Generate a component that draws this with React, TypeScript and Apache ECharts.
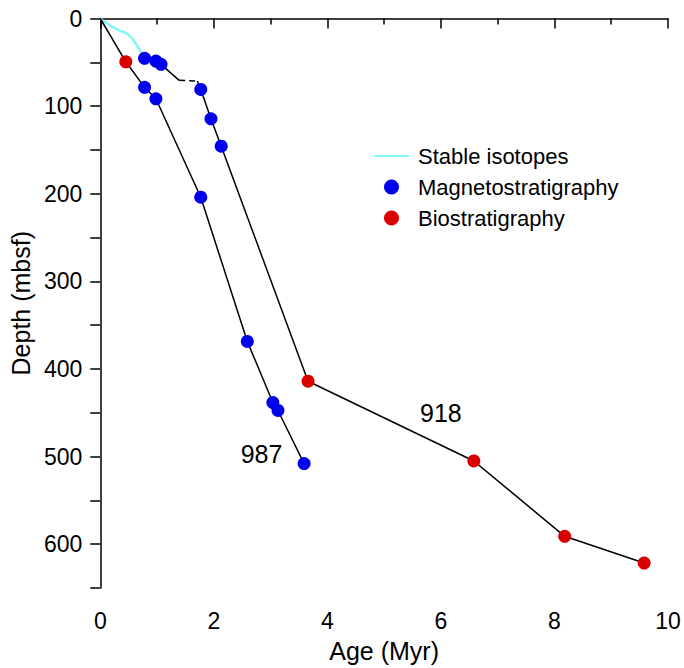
import React, { useEffect, useRef } from 'react';
import * as echarts from 'echarts';

// Stable isotope tie line (Site 918, top)
const isotopeAge = [0, 0.03, 0.21, 0.35, 0.47, 0.56, 0.64, 0.73, 0.78];
const isotopeDepth = [0, 1.7, 9.4, 14, 17, 22.6, 30, 40, 45.5];

// Site 918 age-depth line (solid parts and the dashed gap)
const site918UpperAge = [0.78, 0.98, 1.07, 1.39];
const site918UpperDepth = [45.5, 48.6, 52.3, 70.6];
const site918GapAge = [1.39, 1.71];
const site918GapDepth = [70.6, 71.4];
const site918LowerAge = [1.71, 1.77, 1.95, 2.13, 3.66, 6.58, 8.18, 9.58];
const site918LowerDepth = [71.4, 81, 114.5, 145.7, 414, 505, 591, 621.5];

// Site 987 age-depth line
const site987Age = [0, 0.45, 0.78, 0.98, 1.77, 2.59, 3.04, 3.13, 3.59];
const site987Depth = [0, 49.4, 78.6, 91.6, 204, 368.6, 438.3, 447.4, 508];

// Datums
const magnetoAge = [0.78, 0.98, 1.07, 1.77, 1.95, 2.13, 0.78, 0.98, 1.77, 2.59, 3.04, 3.13, 3.59];
const magnetoDepth = [45.5, 48.6, 52.3, 81, 114.5, 145.7, 78.6, 91.6, 204, 368.6, 438.3, 447.4, 508];
const bioAge = [0.45, 3.66, 6.58, 8.18, 9.58];
const bioDepth = [49.4, 414, 505, 591, 621.5];

// Site labels
const siteNames = ['918', '987'];
const siteLabelAge = [6.0, 2.84];
const siteLabelDepth = [450, 497];

const FONT = '"Liberation Sans", Arial, sans-serif';
const zip = (a: number[], b: number[]) => a.map((v, i) => [v, b[i]]);

export default function App() {
  const ref = useRef<HTMLDivElement>(null);
  useEffect(() => {
    const chart = echarts.init(ref.current!, null, { renderer: 'svg' });
    const lineBlack = { color: '#000', width: 1.5 };
    chart.setOption({
      animation: false,
      backgroundColor: '#fff',
      textStyle: { fontFamily: FONT },
      grid: { left: 98, right: 16, top: 18.5, bottom: 80 },
      legend: {
        orient: 'vertical',
        left: 373,
        top: 145,
        padding: 0,
        itemWidth: 35,
        itemHeight: 15,
        itemGap: 9,
        textStyle: { fontSize: 22, color: '#000', fontFamily: FONT, padding: [0, 0, 0, 4] },
        data: [
          { name: 'Stable isotopes', itemStyle: { opacity: 0 } },
          { name: 'Magnetostratigraphy', icon: 'circle' },
          { name: 'Biostratigraphy', icon: 'circle' },
        ],
      },
      xAxis: {
        type: 'value',
        min: 0,
        max: 10,
        interval: 2,
        name: 'Age (Myr)',
        nameLocation: 'middle',
        nameGap: 50,
        nameTextStyle: { fontSize: 25, color: '#000', fontFamily: FONT },
        axisLine: { lineStyle: { color: '#000', width: 1.5 } },
        axisTick: { length: 10, lineStyle: { color: '#000', width: 1.5 } },
        minorTick: { show: true, splitNumber: 2, length: 6, lineStyle: { color: '#000', width: 1.5 } },
        axisLabel: { fontSize: 23, color: '#000', margin: 21, fontFamily: FONT },
        splitLine: { show: false },
        minorSplitLine: { show: false },
      },
      yAxis: {
        type: 'value',
        inverse: true,
        min: 0,
        max: 650,
        interval: 50,
        name: 'Depth (mbsf)',
        nameLocation: 'middle',
        nameGap: 66,
        nameRotate: 90,
        nameTextStyle: { fontSize: 25, color: '#000', fontFamily: FONT },
        axisLine: { onZero: false, lineStyle: { color: '#000', width: 1.5 } },
        axisTick: { length: 10, lineStyle: { color: '#000', width: 1.5 } },
        axisLabel: {
          fontSize: 23,
          color: '#000',
          margin: 18,
          fontFamily: FONT,
          formatter: (v: number) => (v % 100 === 0 ? String(v) : ''),
        },
        splitLine: { show: false },
      },
      series: [
        {
          name: 'Stable isotopes',
          type: 'line',
          data: zip(isotopeAge, isotopeDepth),
          symbol: 'none',
          itemStyle: { color: '#80f6f6' },
          lineStyle: { color: '#80f6f6', width: 2.5 },
          z: 2,
        },
        {
          name: 'site918a',
          type: 'line',
          data: zip(site918UpperAge, site918UpperDepth),
          symbol: 'none',
          lineStyle: lineBlack,
          z: 2,
        },
        {
          name: 'site918gap',
          type: 'line',
          data: zip(site918GapAge, site918GapDepth),
          symbol: 'none',
          lineStyle: { color: '#000', width: 1.5, type: [6, 4] },
          z: 2,
        },
        {
          name: 'site918b',
          type: 'line',
          data: zip(site918LowerAge, site918LowerDepth),
          symbol: 'none',
          lineStyle: lineBlack,
          z: 2,
        },
        {
          name: 'site987',
          type: 'line',
          data: zip(site987Age, site987Depth),
          symbol: 'none',
          lineStyle: lineBlack,
          z: 2,
        },
        {
          name: 'Magnetostratigraphy',
          type: 'scatter',
          data: zip(magnetoAge, magnetoDepth),
          symbol: 'circle',
          symbolSize: 13,
          itemStyle: { color: '#0000f0', opacity: 1 },
          z: 5,
        },
        {
          name: 'Biostratigraphy',
          type: 'scatter',
          data: zip(bioAge, bioDepth),
          symbol: 'circle',
          symbolSize: 13,
          itemStyle: { color: '#da0000', opacity: 1 },
          z: 5,
        },
        {
          name: 'labels',
          type: 'scatter',
          data: siteNames.map((n, i) => ({ name: n, value: [siteLabelAge[i], siteLabelDepth[i]] })),
          symbolSize: 0,
          silent: true,
          itemStyle: { opacity: 1 },
          label: {
            show: true,
            position: 'inside',
            formatter: '{b}',
            fontSize: 25,
            color: '#000',
            opacity: 1,
            fontFamily: FONT,
          },
          z: 6,
        },
      ],
    });
    return () => chart.dispose();
  }, []);
  return <div ref={ref} style={{ position: 'fixed', left: 0, top: 0, width: 684, height: 668 }} />;
}
